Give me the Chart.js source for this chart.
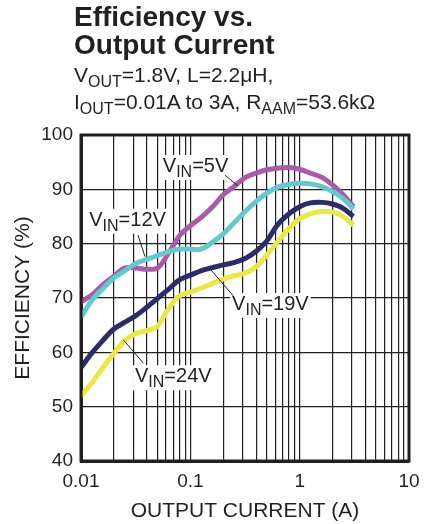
<!DOCTYPE html>
<html>
<head>
<meta charset="utf-8">
<script src="https://cdn.jsdelivr.net/npm/chart.js@4"></script>
<style>
  body { margin: 0; background: #fff; }
  #wrap { position: relative; width: 430px; height: 524px; font-family: "Liberation Sans", Arial, sans-serif; color: #231f20; }
  #wrap canvas { position: absolute; left: 0; top: 0; }
  .title { position: absolute; left: 74px; font-weight: bold; font-size: 28px; line-height: 28px; white-space: nowrap; }
  .sub { position: absolute; left: 74px; font-size: 21px; line-height: 21px; white-space: nowrap; }
  .sub sub { font-size: 16px; vertical-align: -5px; line-height: 0; }
</style>
</head>
<body>
<div id="wrap">
  <canvas id="effChart" width="430" height="524"></canvas>
  <div class="title" style="top:3px">Efficiency vs.<br>Output Current</div>
  <div class="sub" style="top:64px">V<sub>OUT</sub>=1.8V, L=2.2μH,</div>
  <div class="sub" style="top:91px">I<sub>OUT</sub>=0.01A to 3A, R<sub>AAM</sub>=53.6kΩ</div>
</div>
<script>
// output current (A), shared sample points for all curves
const current = [0.01, 0.0125, 0.016, 0.02, 0.025, 0.032, 0.04, 0.05, 0.063, 0.08,
                 0.1, 0.125, 0.16, 0.2, 0.25, 0.32, 0.4, 0.5, 0.63, 0.8,
                 1.0, 1.25, 1.6, 2.0, 2.5, 3.1];

// efficiency (%)
const vin5 = [69.3, 70.5, 72.5, 74.0, 75.5, 75.5, 75.3, 75.5, 78.2, 81.5,
              83.3, 84.8, 86.8, 89.0, 90.5, 92.2, 93.0, 93.6, 93.9, 94.0,
              93.7, 93.0, 92.2, 90.8, 89.0, 86.8];
const vin12 = [66.5, 69.5, 71.8, 73.7, 75.0, 76.4, 77.1, 77.8, 78.5, 79.0,
               79.0, 79.0, 80.3, 81.8, 83.8, 86.0, 87.8, 89.3, 90.4, 90.9,
               91.1, 91.0, 90.5, 89.6, 88.3, 86.4];
const vin19 = [57.2, 59.8, 62.3, 64.3, 65.5, 66.8, 68.3, 69.9, 71.6, 73.4,
               74.2, 75.0, 75.6, 76.1, 76.5, 77.3, 78.6, 80.5, 83.5, 85.5,
               86.8, 87.5, 87.6, 87.3, 86.5, 85.0];
const vin24 = [52.0, 54.3, 57.3, 59.8, 62.1, 63.5, 64.0, 64.8, 68.0, 70.4,
               71.1, 71.8, 72.7, 73.5, 74.1, 74.6, 75.8, 77.9, 80.4, 82.8,
               84.6, 85.5, 85.9, 85.8, 85.0, 83.4];

const xTickValues = [0.01, 0.1, 1, 10];
const xTickLabels = ['0.01', '0.1', '1', '10'];
const yTickValues = [40, 50, 60, 70, 80, 90, 100];

// callout labels: text anchor and leader line, in data units
const callouts = [
  { sub: 'IN', rest: '=5V',  at: [0.056, 93.2], line: [[0.208, 92.6], [0.273, 90.6]] },
  { sub: 'IN', rest: '=12V', at: [0.0119, 83.3], line: [[0.0332, 81.6], [0.0385, 77.6]] },
  { sub: 'IN', rest: '=19V', at: [0.241, 67.8], line: [[0.247, 70.4], [0.151, 75.4]] },
  { sub: 'IN', rest: '=24V', at: [0.0312, 54.5], line: [[0.0372, 58.0], [0.0244, 62.3]] },
];

const FONT = '"Liberation Sans", Arial, sans-serif';
const toPts = ys => ys.map((y, i) => ({ x: current[i], y: y }));

const calloutPlugin = {
  id: 'callouts',
  afterDatasetsDraw(chart) {
    const ctx = chart.ctx, xs = chart.scales.x, ys = chart.scales.y;
    ctx.save();
    callouts.forEach(c => {
      const px = xs.getPixelForValue(c.at[0]), py = ys.getPixelForValue(c.at[1]);
      ctx.font = '20px ' + FONT;
      const wV = ctx.measureText('V').width;
      const wRest = ctx.measureText(c.rest).width;
      ctx.font = '16px ' + FONT;
      const wSub = ctx.measureText(c.sub).width;
      const w = wV + wSub + wRest;
      ctx.fillStyle = '#fff';
      ctx.fillRect(px - 2, py - 17, w + 4, 25);
      ctx.fillStyle = '#231f20';
      ctx.textBaseline = 'alphabetic';
      ctx.textAlign = 'left';
      ctx.font = '20px ' + FONT;
      ctx.fillText('V', px, py);
      ctx.fillText(c.rest, px + wV + wSub, py);
      ctx.font = '16px ' + FONT;
      ctx.fillText(c.sub, px + wV, py + 5);
      ctx.strokeStyle = '#231f20';
      ctx.lineWidth = 1;
      ctx.beginPath();
      ctx.moveTo(xs.getPixelForValue(c.line[0][0]), ys.getPixelForValue(c.line[0][1]));
      ctx.lineTo(xs.getPixelForValue(c.line[1][0]), ys.getPixelForValue(c.line[1][1]));
      ctx.stroke();
    });
    ctx.restore();
  },
  afterDraw(chart) {
    // close the plot frame on top and right
    const a = chart.chartArea, ctx = chart.ctx;
    ctx.save();
    ctx.strokeStyle = '#231f20';
    ctx.lineWidth = 3;
    ctx.strokeRect(a.left, a.top, a.right - a.left, a.bottom - a.top);
    ctx.restore();
  }
};

const lineStyle = { borderWidth: 5, pointRadius: 0, tension: 0.35, fill: false };

new Chart(document.getElementById('effChart'), {
  type: 'line',
  data: {
    datasets: [
      { label: 'VIN=12V', data: toPts(vin12), borderColor: '#62c9d1', ...lineStyle },
      { label: 'VIN=5V', data: toPts(vin5), borderColor: '#a95aa9', ...lineStyle },
      { label: 'VIN=19V', data: toPts(vin19), borderColor: '#2c2c6c', ...lineStyle },
      { label: 'VIN=24V', data: toPts(vin24), borderColor: '#e9e943', ...lineStyle },
    ]
  },
  options: {
    responsive: false,
    animation: false,
    events: [],
    layout: { padding: { top: 135, right: 21, left: 0, bottom: 0 } },
    plugins: { legend: { display: false }, tooltip: { enabled: false } },
    scales: {
      x: {
        type: 'logarithmic',
        min: 0.01, max: 10,
        afterBuildTicks(scale) {
          const vals = [];
          [0.01, 0.1, 1].forEach(d => { for (let k = 1; k < 10; k++) vals.push(+(d * k).toPrecision(3)); });
          vals.push(10);
          scale.ticks = vals.map(v => ({ value: v }));
        },
        afterFit(scale) { scale.height = 63; },
        ticks: {
          autoSkip: false, maxRotation: 0, padding: 9, color: '#231f20',
          font: { family: FONT, size: 19 },
          callback(v) {
            const i = xTickValues.findIndex(t => Math.abs(t - v) < t * 1e-6);
            return i >= 0 ? xTickLabels[i] : '';
          }
        },
        grid: { color: '#231f20', lineWidth: 1.2, drawTicks: false },
        border: { color: '#231f20', width: 3 },
        title: {
          display: true, text: 'OUTPUT CURRENT (A)', color: '#231f20',
          font: { family: FONT, size: 21 },
          padding: { top: 3, bottom: 0 }
        }
      },
      y: {
        min: 40, max: 100,
        afterBuildTicks(scale) { scale.ticks = yTickValues.map(v => ({ value: v })); },
        afterFit(scale) { scale.width = 81; },
        ticks: {
          padding: 8, color: '#231f20',
          font: { family: FONT, size: 19 }
        },
        grid: { color: '#231f20', lineWidth: 1.2, drawTicks: false },
        border: { color: '#231f20', width: 3 },
        title: {
          display: true, text: 'EFFICIENCY (%)', color: '#231f20',
          font: { family: FONT, size: 21 },
          padding: { top: 11, bottom: 0 }
        }
      }
    }
  },
  plugins: [calloutPlugin]
});
</script>
</body>
</html>
